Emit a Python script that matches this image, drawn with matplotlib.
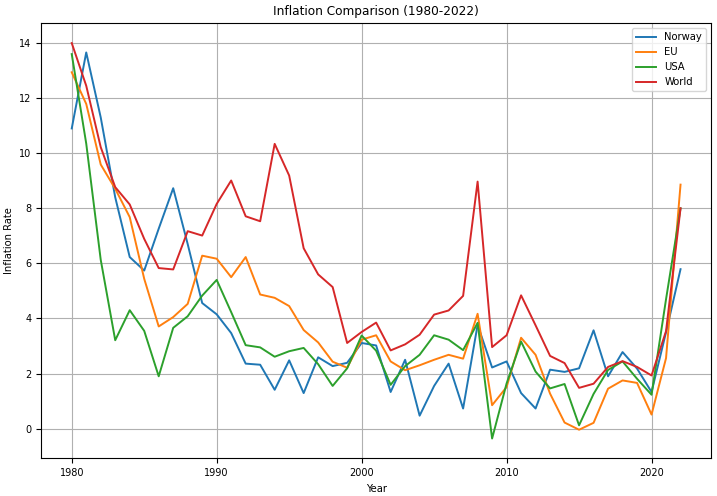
import matplotlib
matplotlib.use("Agg")
import matplotlib.pyplot as plt

years = list(range(1980, 2023))

norway = [10.9, 13.66, 11.3, 8.4, 6.23, 5.74, 7.26, 8.73, 6.7, 4.56,
          4.15, 3.47, 2.36, 2.32, 1.41, 2.48, 1.29, 2.59, 2.27, 2.39,
          3.11, 3.02, 1.33, 2.50, 0.47, 1.55, 2.36, 0.73, 3.77, 2.22,
          2.44, 1.29, 0.73, 2.14, 2.06, 2.19, 3.57, 1.90, 2.78, 2.18,
          1.33, 3.5, 5.79]

eu = [12.94, 11.79, 9.59, 8.71, 7.68, 5.44, 3.71, 4.05, 4.53, 6.28,
      6.17, 5.50, 6.23, 4.87, 4.75, 4.45, 3.58, 3.13, 2.43, 2.21,
      3.23, 3.39, 2.44, 2.12, 2.30, 2.50, 2.68, 2.54, 4.17, 0.85,
      1.51, 3.30, 2.68, 1.27, 0.22, -0.04, 0.21, 1.45, 1.75, 1.66,
      0.51, 2.56, 8.86]

usa = [13.60, 10.35, 6.13, 3.21, 4.30, 3.55, 1.90, 3.66, 4.08, 4.83,
       5.40, 4.23, 3.03, 2.95, 2.61, 2.81, 2.93, 2.34, 1.55, 2.19,
       3.38, 2.83, 1.59, 2.27, 2.68, 3.39, 3.23, 2.85, 3.84, -0.36,
       1.64, 3.16, 2.07, 1.46, 1.62, 0.12, 1.26, 2.13, 2.44, 1.81,
       1.23, 4.70, 8.00]

world = [14.0, 12.45, 10.22, 8.77, 8.14, 6.89, 5.83, 5.78, 7.17, 7.01,
         8.16, 9.01, 7.71, 7.53, 10.34, 9.19, 6.55, 5.60, 5.14, 3.11,
         3.51, 3.85, 2.84, 3.06, 3.41, 4.14, 4.29, 4.82, 8.97, 2.96,
         3.39, 4.84, 3.75, 2.64, 2.38, 1.48, 1.63, 2.24, 2.45, 2.24,
         1.93, 3.54, 8.00]

series = [("Norway", norway), ("EU", eu), ("USA", usa), ("World", world)]

plt.rcParams['font.size'] = 7
fig = plt.figure(figsize=(7.17, 4.96), dpi=100)
ax = fig.add_axes([0.0576, 0.076, 0.934, 0.877])
for name, vals in series:
    ax.plot(years, vals, label=name, linewidth=1.4)
ax.set_title("Inflation Comparison (1980-2022)", fontsize=8.7)
ax.set_xlabel("Year", fontsize=7.2)
ax.set_ylabel("Inflation Rate", fontsize=7.2)
ax.grid(True)
ax.legend(loc="upper right", fontsize=7.2)
fig.savefig("out.png", dpi=100)
